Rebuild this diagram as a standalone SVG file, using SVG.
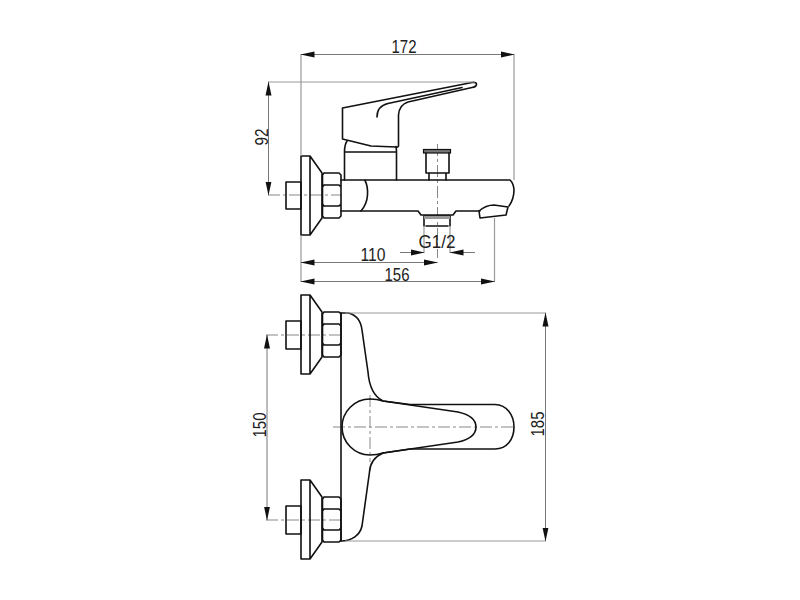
<svg xmlns="http://www.w3.org/2000/svg" width="800" height="600" viewBox="0 0 800 600">
<style>
.o{fill:none;stroke:#111;stroke-width:1.6;stroke-linejoin:round;stroke-linecap:round}
.d{fill:none;stroke:#999;stroke-width:1.2}
.dl{fill:none;stroke:#777;stroke-width:1}
.c{fill:none;stroke:#888;stroke-width:1;stroke-dasharray:12 3 3 3}
.t{font-family:"Liberation Sans",Arial,sans-serif;font-size:19px;fill:#222;text-anchor:middle}
</style>
<defs>
<marker id="a" markerUnits="userSpaceOnUse" markerWidth="15" markerHeight="7" refX="13.500" refY="3.500" orient="auto-start-reverse"><path d="M0 0.500L14 3.500L0 6.500Z" fill="#111"/></marker>
</defs>
<rect width="800" height="600" fill="#fff"/>
<g id="centerlines">
<path class="c" d="M268 195H341M437.500 144V258M266 335H341M266 520H341M333 427H515M370 395V462"/>
</g>
<g id="side-view">
<path class="o" d="M342.500 108L472 82.500Q477 82 476.500 84.500Q476 87 472 87.500L408 102Q399 105 398.500 115L398.500 146Q398 147.500 396 147L371 146L342.500 139Z"/>
<path class="o" d="M377 117Q377 106 388 103.500L462 87.500"/>
<path class="o" d="M344.500 180V152Q344.500 145 347 141M396.500 180V152Q396.500 149 396 146.500M344.500 152H396.500"/>
<rect x="423.500" y="149.500" width="27" height="3.500" fill="#777" stroke="#111" stroke-width="1.200"/>
<path class="o" d="M426 153V173H449V153M429 173V180M446 173V180"/>
<path class="o" d="M341 180H510Q513.500 183 514 190Q514 199 509 206M341 211H418L421 215H453L456 211H480"/>
<path class="o" d="M365 180.500Q368 186 367.500 195Q367 204 361 211"/>
<path class="o" d="M479 211Q486 205 494 205L508 207L506 215L480 218Z"/>
<path class="o" d="M424 216H450M424 216V226M450 216V226M426 226H448"/>
<path d="M424 216H450V219H424Z" fill="#999"/>
</g>
<g id="side-fitting">
<rect class="o" x="286" y="182" width="15" height="27"/>
<path class="o" d="M301 156H310V235H301ZM310 156L322 173V218L310 235"/>
<path class="o" d="M322.500 175L324 173H339L341 175V216L339 218H324L322.500 216ZM324 185H339L341 187M322.500 187L324 185M324 206H339L341 204M322.500 204L324 206"/>
</g>
<g id="plan-view">
<path class="o" d="M341 313V541"/>
<path class="o" d="M341 313H348C358 315 361 322 362 330L368 372C369 385 373 396 383 401L410 404.500H495C507 405 514 415 514 427C514 439 507 449 495 449H410L383 453C374 457 370 464 369.500 472L362 526C360 535 352 541 341 541"/>
<path class="o" d="M370 399A28 28 0 0 0 370 455Q377 455 383 453"/>
<path class="o" d="M370 399Q377 399 383 401L458 412Q476 416 476 427Q476 438 458 442L383 453"/>
</g>
<g id="plan-fitting-top">
<rect class="o" x="286" y="321" width="15" height="28"/>
<path class="o" d="M301 295H310V374H301ZM310 295L322 312V357L310 374"/>
<path class="o" d="M322.500 314L324 312H339L341 314V355L339 357H324L322.500 355ZM324 324H339L341 326M322.500 326L324 324M324 345H339L341 343M322.500 343L324 345"/>
</g>
<g id="plan-fitting-bottom">
<rect class="o" x="286" y="506" width="15" height="28"/>
<path class="o" d="M301 480H310V559H301ZM310 480L322 497V542L310 559"/>
<path class="o" d="M322.500 499L324 497H339L341 499V540L339 542H324L322.500 540ZM324 509H339L341 511M322.500 511L324 509M324 530H339L341 528M322.500 528L324 530"/>
</g>
<g id="connectors">
<path class="d" d="M301 54V156M301 235V282M514 54V180M268 82H475M494.500 218V282M424 226V253M450 226V253M345 313H546M345 541H546"/>
<path class="dl" d="M301 54.500H514" marker-start="url(#a)" marker-end="url(#a)"/>
<path class="dl" d="M268.500 82V195" marker-start="url(#a)" marker-end="url(#a)"/>
<path class="dl" d="M400 252.500H424" marker-end="url(#a)"/>
<path class="dl" d="M475 252.500H450" marker-end="url(#a)"/>
<path class="dl" d="M301 262.500H437.500" marker-start="url(#a)" marker-end="url(#a)"/>
<path class="dl" d="M301 281.500H494.500" marker-start="url(#a)" marker-end="url(#a)"/>
<path class="dl" d="M267 335V520" marker-start="url(#a)" marker-end="url(#a)"/>
<path class="dl" d="M545.500 313V541" marker-start="url(#a)" marker-end="url(#a)"/>
</g>
<g id="labels">
<text class="t" x="404" y="53" textLength="25" lengthAdjust="spacingAndGlyphs">172</text>
<text class="t" transform="translate(268 137) rotate(-90)" textLength="17" lengthAdjust="spacingAndGlyphs">92</text>
<text class="t" x="437" y="248" textLength="37" lengthAdjust="spacingAndGlyphs">G1/2</text>
<text class="t" x="373" y="261" textLength="25" lengthAdjust="spacingAndGlyphs">110</text>
<text class="t" x="397" y="281" textLength="25" lengthAdjust="spacingAndGlyphs">156</text>
<text class="t" transform="translate(266 425) rotate(-90)" textLength="25" lengthAdjust="spacingAndGlyphs">150</text>
<text class="t" transform="translate(544 424) rotate(-90)" textLength="25" lengthAdjust="spacingAndGlyphs">185</text>
</g>
</svg>
